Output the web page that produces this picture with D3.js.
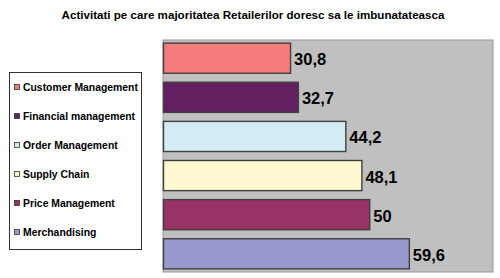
<!DOCTYPE html>
<html><head><meta charset="utf-8">
<script src="https://cdn.jsdelivr.net/npm/d3@7"></script>
<style>body{margin:0;background:#fff;}svg{display:block;}</style>
</head><body>
<svg id="c" width="500" height="278"></svg>
<script>
const categories = ["Customer Management","Financial management","Order Management","Supply Chain","Price Management","Merchandising"];
const values = [30.8, 32.7, 44.2, 48.1, 50, 59.6];
const valueLabels = ["30,8","32,7","44,2","48,1","50","59,6"];
const colors = ["#f47c7c","#631f60","#d3ecf3","#fdf8cf","#993366","#9898cc"];
const title = "Activitati pe care majoritatea Retailerilor doresc sa le imbunatateasca";

const svg = d3.select("#c");
const font = "Arial, 'Liberation Sans', sans-serif";
const pl = 163, pr = 493, pt = 40, pb = 272;

svg.append("text").attr("x", 253).attr("y", 19).attr("text-anchor","middle")
  .attr("font-family", font).attr("font-weight","bold").attr("font-size", 11.6)
  .attr("fill","#000").text(title);

svg.append("rect").attr("x", pl).attr("y", pt).attr("width", pr-pl).attr("height", pb-pt)
  .attr("fill","#c0c0c0").attr("stroke","#999").attr("stroke-width",1);

const x = d3.scaleLinear().domain([0, 80]).range([pl, pr]);
const y = d3.scaleBand().domain(categories).range([pt, pb]).paddingInner(0.23).paddingOuter(0.08);

svg.selectAll("rect.bar").data(categories).join("rect").attr("class","bar")
  .attr("x", x(0)+0.5).attr("y", d => y(d))
  .attr("width", (d,i) => x(values[i]) - x(0)).attr("height", y.bandwidth())
  .attr("fill", (d,i) => colors[i]).attr("stroke","#404040").attr("stroke-width",1.4);

svg.selectAll("text.val").data(categories).join("text").attr("class","val")
  .attr("x", (d,i) => x(values[i]) + 4).attr("y", d => y(d) + y.bandwidth()/2 + 7)
  .attr("font-family", font).attr("font-weight","bold").attr("font-size", 16.5)
  .attr("fill","#000").text((d,i) => valueLabels[i]);

// legend
const lg = svg.append("g");
lg.append("rect").attr("x", 9.5).attr("y", 72.5).attr("width", 132).attr("height", 177)
  .attr("fill","#fff").attr("stroke","#333").attr("stroke-width",1);
const ly = d3.scalePoint().domain(categories).range([87, 232]);
lg.selectAll("rect.sw").data(categories).join("rect").attr("class","sw")
  .attr("x", 14.5).attr("y", d => ly(d) - 2.5).attr("width", 5).attr("height", 5)
  .attr("fill", (d,i) => colors[i]).attr("stroke","#333").attr("stroke-width",0.8);
lg.selectAll("text.lt").data(categories).join("text").attr("class","lt")
  .attr("x", 23).attr("y", d => ly(d) + 4)
  .attr("font-family", font).attr("font-weight","bold").attr("font-size", 10.4)
  .attr("fill","#000").text(d => d);
</script>
</body></html>
